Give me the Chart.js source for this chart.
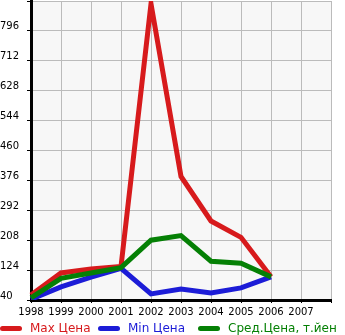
<!DOCTYPE html>
<html>
<head>
<meta charset="utf-8">
<script src="https://cdn.jsdelivr.net/npm/chart.js@4/dist/chart.umd.min.js"></script>
<style>
  body { margin: 0; background: #fff; }
  #wrap { position: relative; width: 345px; height: 335px; overflow: hidden; }
  #legend { position: absolute; left: 0; top: 321px; width: 345px; height: 14px; white-space: nowrap;
            font: 12px "DejaVu Sans", sans-serif; }
  .item { position: absolute; top: 0; }
  .swatch { position: absolute; top: 5px; left: 0; width: 22px; height: 5px; border-radius: 3px; }
  .label { position: absolute; left: 30px; top: 0; line-height: 14px; }
</style>
</head>
<body>
<div id="wrap">
  <canvas id="myChart" width="345" height="335"></canvas>
  <div id="legend"></div>
</div>
<script>
const years = ['1998', '1999', '2000', '2001', '2002', '2003', '2004', '2005', '2006', '2007', '']
const maxPrice = [54, 116, 127, 134, 872, 387, 262, 216, 105]
const minPrice = [42, 77, 104, 129, 57, 71, 60, 74, 105]
const avgPrice = [46, 101, 116, 131, 208, 221, 149, 143, 105]
const seriesNames = ['Max Цена', 'Min Цена', 'Сред.Цена, т.йен']
const seriesColors = ['#d71a1c', '#1c1cd7', '#058005']
const legendLeft = [0, 98, 198]

const plotBg = {
    id: 'plotBg',
    beforeDraw(chart) {
        const a = chart.chartArea
        const c = chart.ctx
        c.save()
        c.fillStyle = '#f7f7f7'
        c.fillRect(a.left, a.top, a.right - a.left, a.bottom - a.top)
        c.restore()
    }
}

const values = [maxPrice, minPrice, avgPrice]
const datasets = values.map((v, i) => ({
    label: seriesNames[i],
    data: v,
    borderColor: seriesColors[i],
    backgroundColor: seriesColors[i],
    borderWidth: 5,
    pointRadius: 0,
    tension: 0,
    order: 3 - i
}))

let ctx = document.getElementById('myChart').getContext('2d')
let myChart = new Chart(ctx, {
    type: 'line',
    data: { labels: years, datasets: datasets },
    plugins: [plotBg],
    options: {
        responsive: false,
        animation: false,
        layout: { padding: { top: 1, right: 14, bottom: 15, left: 0 } },
        plugins: { legend: { display: false }, tooltip: { enabled: false } },
        scales: {
            x: {
                offset: false,
                grid: { color: '#bbbbbb', tickColor: '#000', tickLength: 3, lineWidth: 1 },
                border: { color: '#000', width: 3 },
                ticks: { color: '#000', font: { family: 'DejaVu Sans', size: 10 }, maxRotation: 0, autoSkip: false, padding: 3 },
                afterFit(scale) {
                    scale.height = 20
                    scale.paddingLeft = 0
                    scale.paddingRight = 0
                }
            },
            y: {
                min: 40,
                max: 880,
                grid: { color: '#bbbbbb', tickColor: '#000', tickLength: 4, lineWidth: 1 },
                border: { color: '#000', width: 3 },
                ticks: {
                    stepSize: 84,
                    color: '#000',
                    font: { family: 'DejaVu Sans', size: 10 },
                    crossAlign: 'far',
                    labelOffset: -4,
                    callback: (v) => v >= 880 ? '' : v
                },
                afterFit(scale) {
                    scale.width = 31
                    scale.paddingTop = 0
                    scale.paddingBottom = 0
                }
            }
        }
    }
})

// legend below the chart
const legend = document.getElementById('legend')
seriesNames.forEach((name, i) => {
    const item = document.createElement('div')
    item.className = 'item'
    item.style.left = legendLeft[i] + 'px'
    item.innerHTML = '<span class="swatch" style="background:' + seriesColors[i] + '"></span>' +
        '<span class="label" style="color:' + seriesColors[i] + '">' + name + '</span>'
    legend.appendChild(item)
})
</script>
</body>
</html>
